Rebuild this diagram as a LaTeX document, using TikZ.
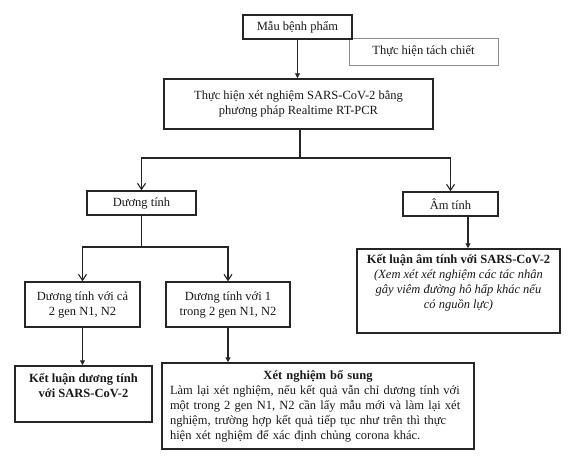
\documentclass[tikz,border=0pt]{standalone}
\usepackage{fontspec}
\setmainfont{Liberation Serif}
\usepackage{tikz}
\usetikzlibrary{arrows.meta, positioning}

\begin{document}
\begin{tikzpicture}[
  x=1pt, y=-1pt,
  font=\fontsize{12.5}{15}\selectfont,
  every node/.style={rectangle, draw=black!85, line width=1.5pt, inner sep=3pt, align=center, text=black!90},
  faint/.style={draw=black!45, line width=0.9pt},
  line/.style={line width=1.1pt, draw=black!85},
  openarrow/.style={line, -{Straight Barb[length=6pt, width=8pt]}},
  fillarrow/.style={line, -{Triangle[length=5pt, width=5pt]}}
]
\useasboundingbox (0,0) rectangle (576,464);

\node[faint, minimum width=149pt, minimum height=27pt] (tach) at (423.5,51.5) {Thực hiện tách chiết};
\node[minimum width=109pt, minimum height=24pt] (mau) at (297.5,27) {Mẫu bệnh phẩm};
\node[minimum width=269pt, minimum height=50pt] (rtpcr) at (298.5,104)
  {Thực hiện xét nghiệm SARS-CoV-2 bằng\\phương pháp Realtime RT-PCR};

\node[minimum width=109pt, minimum height=24pt] (duong) at (141.5,203) {Dương tính};
\node[minimum width=95pt, minimum height=24pt] (am) at (450.5,204) {Âm tính};

\node[minimum width=115pt, minimum height=45pt] (ca) at (82.5,304.5) {Dương tính với cả\\2 gen N1, N2};
\node[minimum width=124pt, minimum height=45pt] (mot) at (228,304.5) {Dương tính với 1\\trong 2 gen N1, N2};

\node[minimum width=203pt, minimum height=84pt, text depth=19pt] (amkl) at (458.5,291)
  {\textbf{Kết luận âm tính với SARS-CoV-2}\\\textit{(Xem xét xét nghiệm các tác nhân}\\\textit{gây viêm đường hô hấp khác nếu}\\\textit{có nguồn lực)}};
\node[minimum width=137pt, minimum height=56pt, text depth=17pt] (kldt) at (83.5,394)
  {\textbf{Kết luận dương tính}\\\textbf{với SARS-CoV-2}};
\node[minimum width=312pt, minimum height=86pt, text width=296pt, align=left] (xn) at (318,406)
  {\makebox[\linewidth]{\textbf{Xét nghiệm bổ sung}}\\
   Làm lại xét nghiệm, nếu kết quả vẫn chỉ dương tính với\\
   một trong 2 gen N1, N2 cần lấy mẫu mới và làm lại xét\\
   nghiệm, trường hợp kết quả tiếp tục như trên thì thực\\
   hiện xét nghiệm để xác định chủng corona khác.};

\coordinate (split) at (300,158);
\coordinate (split2) at (141.5,247);

\draw[fillarrow] (mau.south) -- (mau.south |- rtpcr.north);
\draw[line] (split |- rtpcr.south) -- (split);
\draw[openarrow] (split) -| (duong.north);
\draw[openarrow] (split) -| (am.north);
\draw[line] (duong) -- (split2);
\draw[openarrow] (split2) -| (ca.north);
\draw[openarrow] (split2) -| (mot.north);
\draw[fillarrow] (ca.south) -- (ca.south |- kldt.north);
\draw[fillarrow] (mot.south) -- (mot.south |- xn.north);
\draw[fillarrow] ([xshift=17.5pt]am.south) -- ([xshift=17.5pt]am.south |- amkl.north);

\end{tikzpicture}
\end{document}
